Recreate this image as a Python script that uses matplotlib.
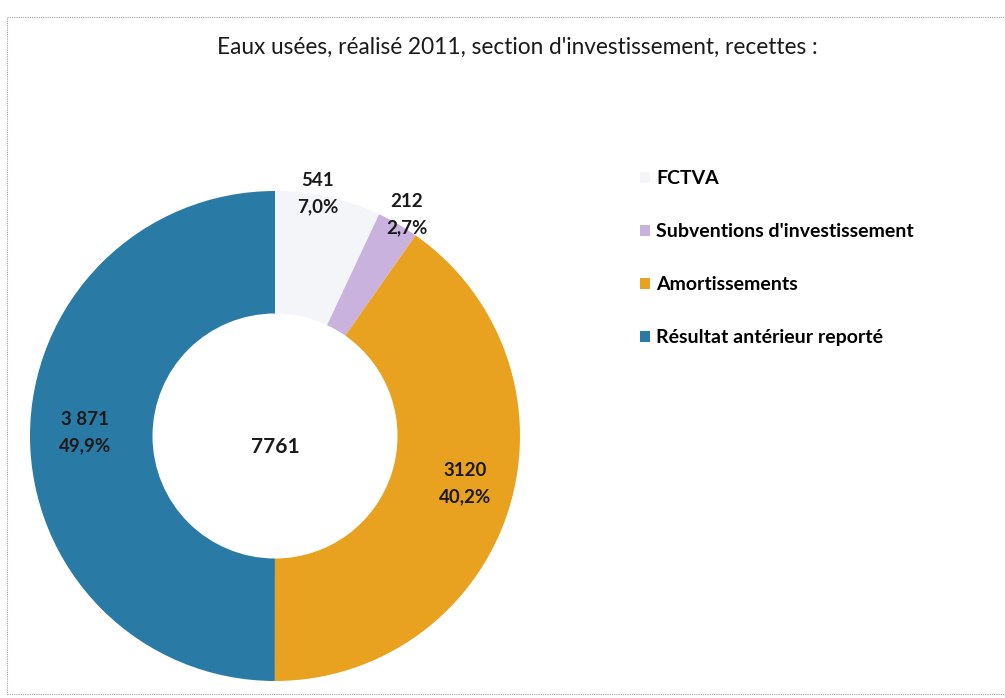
import matplotlib
matplotlib.use("Agg")
import matplotlib.pyplot as plt
from matplotlib.patches import Rectangle, Patch

plt.rcParams['font.family'] = ['Lato', 'DejaVu Sans']

title = "Eaux usées, réalisé 2011, section d'investissement, recettes :"
categories = ["FCTVA", "Subventions d'investissement", "Amortissements", "Résultat antérieur reporté"]
values = [541, 212, 3120, 3871]
value_labels = ["541", "212", "3120", "3 871"]
total = 7761
colors = ["#f3f5f9", "#c9b3de", "#e9a21f", "#2a7aa6"]

W, H = 1005, 698
fig = plt.figure(figsize=(W / 100, H / 100), dpi=100)
fig.patch.set_facecolor("white")

# frame
fig.add_artist(Rectangle((7 / W, (H - 694) / H), 1.2, (694 - 17) / H, transform=fig.transFigure,
                         fill=False, edgecolor="#9aa0a8", linewidth=0.8, linestyle=(0, (1, 1))))

cx, cy, R = 275, 436, 245
ax = fig.add_axes([(cx - R) / W, (H - cy - R) / H, 2 * R / W, 2 * R / H])
ax.axis("off")

wedges, _ = ax.pie(values, colors=colors, startangle=90, counterclock=False, radius=1,
                   wedgeprops=dict(width=0.5, linewidth=0))
ax.set_xlim(-1, 1)
ax.set_ylim(-1, 1)
ax.set_aspect("equal")


def px(x, y):
    return ((x - cx) / R, (cy - y) / R)


label_pos = [px(318, 194), px(407, 215), px(465, 484), px(85, 433)]
for (x, y), v, lab in zip(label_pos, values, value_labels):
    pct = f"{v / total * 100:.1f}".replace(".", ",") + "%"
    ax.text(x, y, f"{lab}\n{pct}", ha="center", va="center", fontsize=13.5,
            fontweight="bold", color="#1a1a1a", linespacing=1.65)

ax.text(*px(275, 447), str(total), ha="center", va="center", fontsize=15,
        fontweight="bold", color="#1a1a1a")

fig.text(517 / W, 1 - 47 / H, title, ha="center", va="center", fontsize=16.3, color="#1a1a1a")

handles = [Patch(facecolor=c, edgecolor="none") for c in colors]
fig.legend(handles, categories, loc="upper left", bbox_to_anchor=(622 / W, 1 - 153 / H),
           frameon=False, labelspacing=1.85, handlelength=0.55, handleheight=0.55,
           handletextpad=0.3, prop=dict(weight="bold", size=14))

fig.savefig("out.png", dpi=100)
